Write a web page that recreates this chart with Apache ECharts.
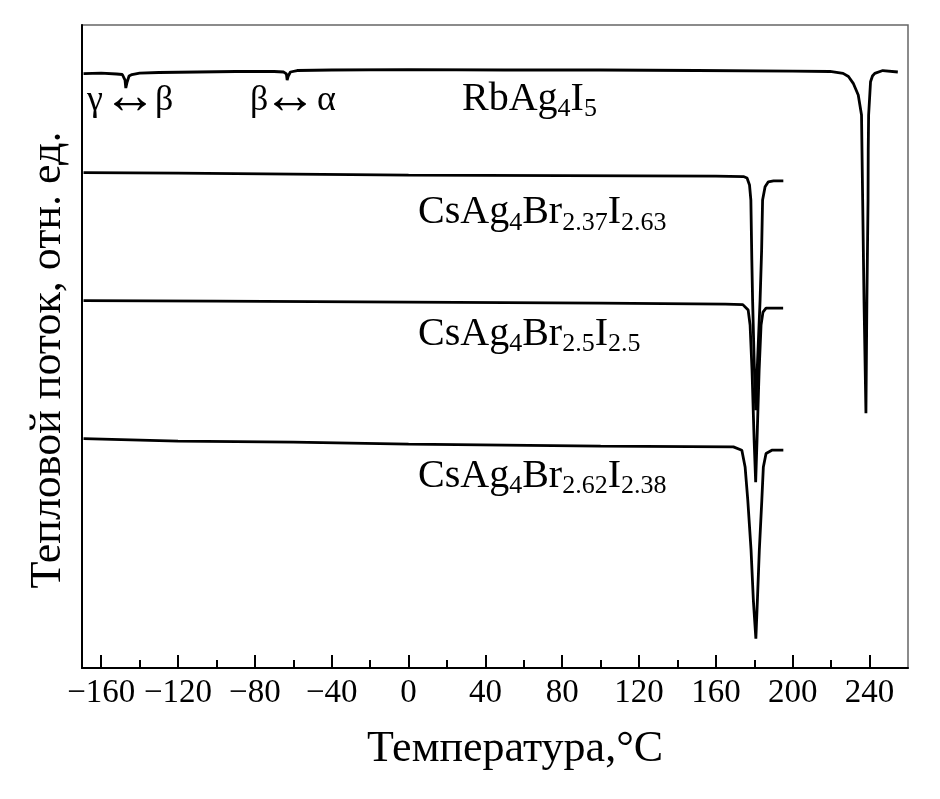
<!DOCTYPE html>
<html>
<head>
<meta charset="utf-8">
<script src="https://cdn.jsdelivr.net/npm/echarts@6/dist/echarts.min.js"></script>
<style>html,body{margin:0;padding:0;background:#fff}#c{width:940px;height:799px}</style>
</head>
<body>
<div id="c"></div>
<script>
// Temperature (°C) vs heat flow (arbitrary units, 0..100)
var rbData = [[-169.2,92.45],[-160,92.53],[-152,92.38],[-149,92.30],[-148,92.07],[-147.6,91.44],[-147.2,90.20],[-146.5,91.13],[-145.5,92.07],[-144,92.30],[-140,92.53],[-130,92.61],[-110,92.69],[-90,92.77],[-70,92.77],[-65,92.69],[-63.6,92.38],[-63.2,91.44],[-62.6,92.07],[-61.5,92.69],[-58,92.92],[-40,93.00],[0,93.05],[50,93.00],[100,93.00],[150,92.92],[200,92.84],[219.4,92.77],[226.2,92.48],[229,91.99],[231.5,90.93],[234.1,89.11],[235.8,86.00],[236.4,72.77],[237.1,57.21],[238.1,39.63],[238.6,57.21],[239.2,72.77],[239.3,80.55],[239.5,86.00],[240.5,91.18],[241.5,92.07],[242.7,92.48],[246.9,92.92],[254.7,92.69]];
var cs237Data = [[-169.2,77.05],[-120,76.97],[-60,76.82],[0,76.66],[80,76.58],[160,76.51],[174.3,76.43],[176.2,76.20],[177.5,75.11],[178.2,72.77],[178.7,63.44],[179.1,57.21],[179.9,47.88],[180.7,40.10],[181.7,47.88],[183.0,57.21],[183.8,64.99],[184.3,72.77],[185.6,74.84],[187.3,75.62],[190,75.76],[195.1,75.77]];
var cs25Data = [[-169.2,57.13],[-100,57.06],[0,56.90],[100,56.75],[165,56.59],[174,56.51],[176.8,55.66],[177.8,53.32],[178.8,46.32],[179.9,35.43],[180.7,28.89],[181.4,35.43],[182.5,46.32],[183.5,53.32],[184.5,55.34],[186.1,55.97],[195.0,55.97]];
var cs262Data = [[-169.2,35.66],[-120,35.27],[-60,35.12],[0,34.81],[100,34.50],[169.1,34.39],[173.5,33.87],[175.2,31.27],[176.6,26.09],[178.3,18.31],[179.5,10.53],[180.8,4.57],[181.6,10.53],[182.6,18.31],[183.9,26.09],[184.7,31.27],[186.1,33.36],[189.1,33.87],[195.1,33.87]];
var majorTicks = [-160,-120,-80,-40,0,40,80,120,160,200,240];
var minorTicks = [-140,-100,-60,-20,20,60,100,140,180,220];
var xTitle = 'Температура,°C';
var yTitle = 'Тепловой поток, отн. ед.';

var FONT = '"Liberation Serif","Times New Roman",serif';
var chart = echarts.init(document.getElementById('c'), null, {renderer:'canvas'});
function line(name, data){
  return {name:name, type:'line', data:data, showSymbol:false, symbol:'none', smooth:false,
    lineStyle:{color:'#000', width:2.8}, animation:false, z:3};
}
var rich = {
  m:{fontFamily:FONT, fontSize:40, lineHeight:40, verticalAlign:'top', fill:'#000', color:'#000'},
  s:{fontFamily:FONT, fontSize:26, lineHeight:26, verticalAlign:'top', padding:[17,0,0,0], fill:'#000', color:'#000'}
};
function lbl(x, y, txt){
  return {type:'text', left:x, top:y, z:10, style:{text:txt, rich:rich, fill:'#000', font:'40px '+FONT}};
}
function t(x, y, txt, size, align){
  return {type:'text', x:x, y:y, z:10, style:{text:txt, font:size+'px '+FONT, fill:'#000', verticalAlign:'middle', align:align||'left'}};
}
chart.setOption({
  animation:false,
  backgroundColor:'#fff',
  grid:{left:82, right:32, top:25, bottom:131, show:true, borderColor:'#666', borderWidth:1.5},
  xAxis:[{
    type:'value', min:-170, max:260, position:'bottom',
    axisLine:{show:true, onZero:false, lineStyle:{color:'#000', width:2}},
    axisTick:{show:true, inside:true, length:13, customValues:majorTicks, lineStyle:{color:'#000', width:2}},
    axisLabel:{show:true, customValues:majorTicks, margin:9, color:'#000', fontFamily:FONT, fontSize:33,
      formatter:function(v){return v<0 ? '\u2212'+Math.abs(v) : String(v);}},
    splitLine:{show:false}
  },{
    type:'value', min:-170, max:260, position:'bottom', offset:0,
    axisLine:{show:false, onZero:false},
    axisTick:{show:true, inside:true, length:8, customValues:minorTicks, lineStyle:{color:'#000', width:2}},
    axisLabel:{show:false}, splitLine:{show:false}
  }],
  yAxis:{type:'value', min:0, max:100,
    axisLine:{show:true, onZero:false, lineStyle:{color:'#000', width:2}},
    axisTick:{show:false}, axisLabel:{show:false}, splitLine:{show:false}},
  series:[line('RbAg4I5', rbData), line('CsAg4Br2.37I2.63', cs237Data), line('CsAg4Br2.5I2.5', cs25Data), line('CsAg4Br2.62I2.38', cs262Data)],
  graphic:[
    lbl(462, 79.5, '{m|RbAg}{s|4}{m|I}{s|5}'),
    lbl(418, 192.8, '{m|CsAg}{s|4}{m|Br}{s|2.37}{m|I}{s|2.63}'),
    lbl(418, 314.5, '{m|CsAg}{s|4}{m|Br}{s|2.5}{m|I}{s|2.5}'),
    lbl(418, 456, '{m|CsAg}{s|4}{m|Br}{s|2.62}{m|I}{s|2.38}'),
    t(87, 101, '\u03B3', 36), t(130, 99, '\u2194', 54, 'center'), t(155, 101, '\u03B2', 36),
    t(250, 101, '\u03B2', 36), t(290, 99, '\u2194', 54, 'center'), t(317, 101, '\u03B1', 36),
    t(515, 749, xTitle, 44, 'center'),
    {type:'text', x:48, y:360, rotation:Math.PI/2, z:10, style:{text:yTitle, font:'44px '+FONT, fill:'#000', verticalAlign:'middle', align:'center'}}
  ]
});
</script>
</body>
</html>
